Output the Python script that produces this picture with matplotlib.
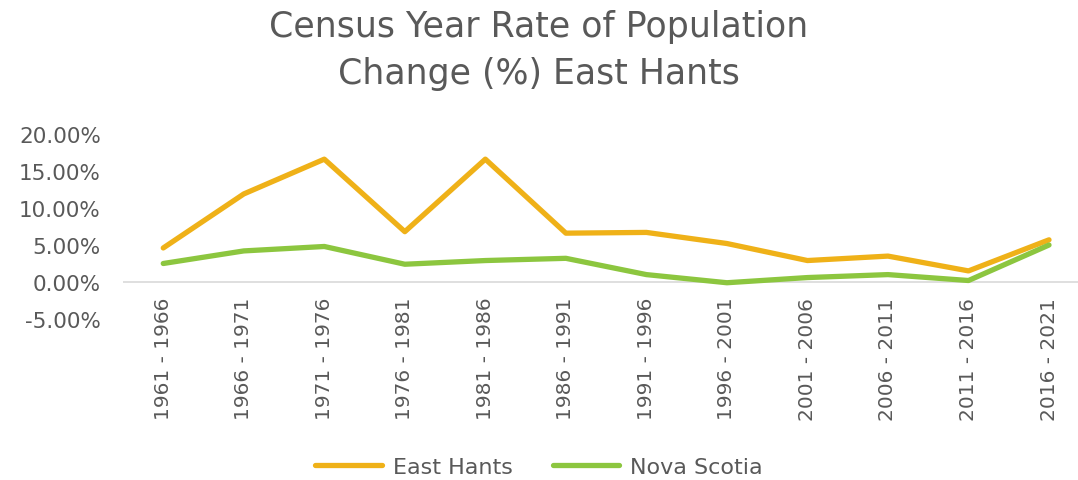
import matplotlib.pyplot as plt
from matplotlib.ticker import FuncFormatter

periods = ["1961 - 1966", "1966 - 1971", "1971 - 1976", "1976 - 1981",
           "1981 - 1986", "1986 - 1991", "1991 - 1996", "1996 - 2001",
           "2001 - 2006", "2006 - 2011", "2011 - 2016", "2016 - 2021"]
east_hants = [4.6, 11.9, 16.6, 6.8, 16.6, 6.6, 6.7, 5.2, 2.9, 3.5, 1.5, 5.7]
nova_scotia = [2.5, 4.2, 4.8, 2.4, 2.9, 3.2, 1.0, -0.1, 0.6, 1.0, 0.2, 5.0]

grey = "#595959"
plt.rcParams['font.family'] = ['DejaVu Sans']

fig = plt.figure(figsize=(10.78, 4.81), dpi=100)
ax = fig.add_axes([123 / 1078, 1 - 320 / 481, (1078 - 123) / 1078, (320 - 135) / 481])

x = range(len(periods))
ax.plot(x, east_hants, color="#EFB118", lw=3.8, label="East Hants", solid_capstyle='round')
ax.plot(x, nova_scotia, color="#8CC63F", lw=3.8, label="Nova Scotia", solid_capstyle='round')

ax.axhline(0, color="#d9d9d9", lw=1.2, zorder=0)
ax.set_xlim(-0.5, 11.36)
ax.set_ylim(-5, 20)
ax.set_yticks([-5, 0, 5, 10, 15, 20])
ax.yaxis.set_major_formatter(FuncFormatter(lambda v, p: "{:.2f}%".format(v)))
ax.set_xticks(list(x))
ax.set_xticklabels(periods, rotation=90)
ax.tick_params(axis='both', length=0, colors=grey)
ax.tick_params(axis='x', pad=-16, labelsize=14.5)
ax.tick_params(axis='y', pad=16, labelsize=15.5)
for s in ax.spines.values():
    s.set_visible(False)

fig.suptitle("Census Year Rate of Population\nChange (%) East Hants",
             fontsize=25, color=grey, y=0.98, linespacing=1.5)

fig.legend(loc="lower center", bbox_to_anchor=(0.5, -0.035), ncol=2, frameon=False,
           fontsize=16, labelcolor=grey, handlelength=3.0, handletextpad=0.5,
           columnspacing=1.8)

fig.savefig("out.png", dpi=100)
